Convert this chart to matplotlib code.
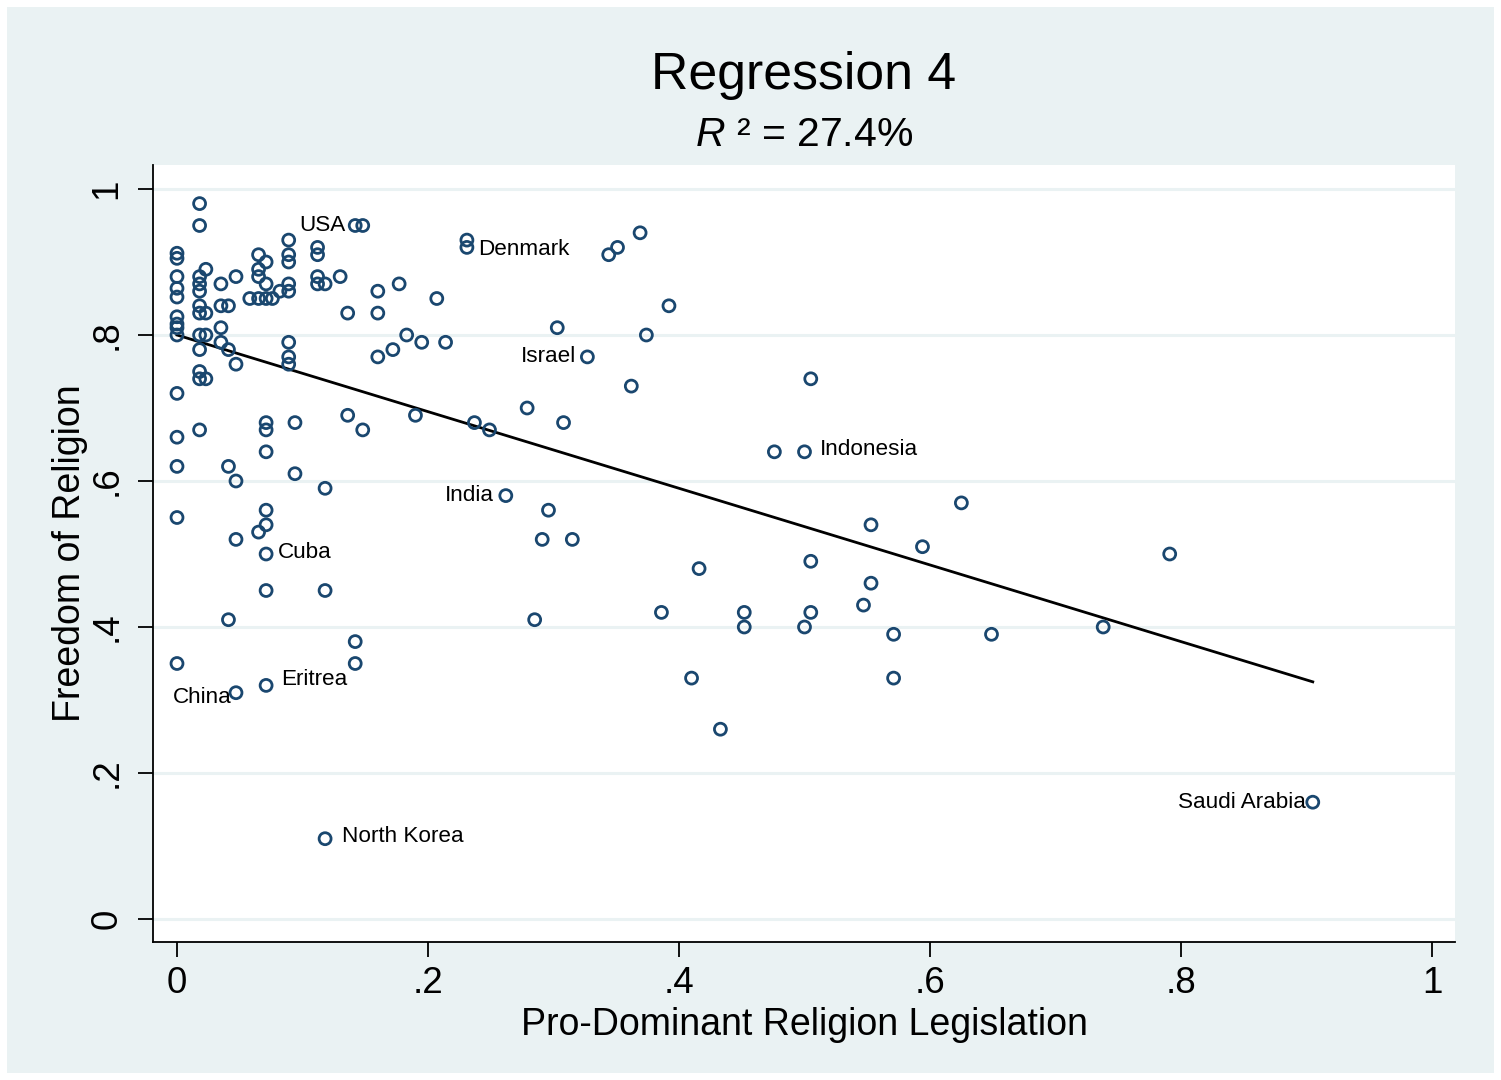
import numpy as np
import matplotlib
matplotlib.use("Agg")
from matplotlib import pyplot as plt
from matplotlib.patches import Rectangle

plt.rcParams['font.family'] = ['Liberation Sans', 'DejaVu Sans']
plt.rcParams['mathtext.fontset'] = 'custom'
plt.rcParams['mathtext.rm'] = 'Liberation Sans'
plt.rcParams['mathtext.it'] = 'Liberation Sans:italic'

# pro-dominant religion legislation (x) and freedom of religion (y), one entry per country
legislation = [
    0, 0, 0, 0, 0, 0, 0, 0, 0, 0, 0, 0, 0, 0,
    0.018, 0.018, 0.018, 0.018, 0.018, 0.018, 0.018, 0.018, 0.018, 0.018, 0.018, 0.018,
    0.023, 0.023, 0.023, 0.023,
    0.035, 0.035, 0.035, 0.035,
    0.041, 0.041, 0.041, 0.041,
    0.047, 0.047, 0.047, 0.047, 0.047,
    0.058,
    0.065, 0.065, 0.065, 0.065, 0.065,
    0.071, 0.071, 0.071, 0.071, 0.071, 0.071, 0.071, 0.071, 0.071, 0.071, 0.071,
    0.076, 0.082,
    0.089, 0.089, 0.089, 0.089, 0.089, 0.089, 0.089, 0.089,
    0.094, 0.094,
    0.112, 0.112, 0.112, 0.112,
    0.118, 0.118, 0.118, 0.118,
    0.130, 0.136, 0.136,
    0.142, 0.142, 0.142, 0.148, 0.148,
    0.160, 0.160, 0.160,
    0.172, 0.177, 0.183, 0.190, 0.195, 0.207, 0.214,
    0.231, 0.231, 0.237, 0.249, 0.262, 0.279, 0.285, 0.291, 0.296, 0.303, 0.308,
    0.315, 0.327, 0.344, 0.351, 0.362, 0.369, 0.374, 0.386, 0.392,
    0.410, 0.416, 0.433, 0.452, 0.452, 0.476, 0.500, 0.500,
    0.505, 0.505, 0.505, 0.547, 0.553, 0.553, 0.571, 0.571,
    0.594, 0.625, 0.649, 0.738, 0.791, 0.905,
]
freedom = [
    0.912, 0.905, 0.88, 0.864, 0.852, 0.825, 0.815, 0.81, 0.80, 0.72, 0.66, 0.62, 0.55, 0.35,
    0.98, 0.95, 0.88, 0.87, 0.86, 0.84, 0.83, 0.80, 0.78, 0.75, 0.74, 0.67,
    0.89, 0.83, 0.80, 0.74,
    0.87, 0.84, 0.81, 0.79,
    0.84, 0.78, 0.62, 0.41,
    0.88, 0.76, 0.60, 0.52, 0.31,
    0.85,
    0.91, 0.89, 0.88, 0.85, 0.53,
    0.90, 0.87, 0.85, 0.68, 0.67, 0.64, 0.56, 0.54, 0.50, 0.45, 0.32,
    0.85, 0.86,
    0.93, 0.91, 0.90, 0.87, 0.86, 0.79, 0.77, 0.76,
    0.68, 0.61,
    0.92, 0.91, 0.88, 0.87,
    0.87, 0.59, 0.45, 0.11,
    0.88, 0.83, 0.69,
    0.95, 0.38, 0.35, 0.95, 0.67,
    0.86, 0.83, 0.77,
    0.78, 0.87, 0.80, 0.69, 0.79, 0.85, 0.79,
    0.93, 0.92, 0.68, 0.67, 0.58, 0.70, 0.41, 0.52, 0.56, 0.81, 0.68,
    0.52, 0.77, 0.91, 0.92, 0.73, 0.94, 0.80, 0.42, 0.84,
    0.33, 0.48, 0.26, 0.42, 0.40, 0.64, 0.64, 0.40,
    0.74, 0.49, 0.42, 0.43, 0.54, 0.46, 0.39, 0.33,
    0.51, 0.57, 0.39, 0.40, 0.50, 0.16,
]

# labelled countries: name, x, y, text offset (px), alignment
countries = ["USA", "Denmark", "Israel", "India", "Indonesia", "Cuba",
             "Eritrea", "China", "North Korea", "Saudi Arabia"]
country_x = [0.142, 0.231, 0.327, 0.262, 0.500, 0.071, 0.071, 0.047, 0.118, 0.905]
country_y = [0.95, 0.92, 0.77, 0.58, 0.64, 0.50, 0.32, 0.31, 0.11, 0.16]
label_dx = [-10, 11, -11, -12, 15, 12, 15, -4, 17, -7]
label_dy = [0, -2, 0, 0, 2, 2, 6, -5, 2, 0]
label_ha = ["right", "left", "right", "right", "left", "left",
            "left", "right", "left", "right"]

# fitted line
fit_intercept = 0.80
fit_slope = -0.525

navy = "#1A476F"
bg = "#EAF2F3"

fig = plt.figure(figsize=(15.01, 10.80), dpi=100, facecolor="white")
fig.patches.append(Rectangle((7 / 1501, 7 / 1080), 1487 / 1501, 1066 / 1080,
                             transform=fig.transFigure, facecolor=bg,
                             edgecolor="none", zorder=-5))

ax = fig.add_axes([153 / 1501, 138 / 1080, 1302 / 1501, 777 / 1080])
ax.set_facecolor("white")
ax.set_xlim(-24 / 1255, 1 + 23 / 1255)
ax.set_ylim(-23 / 730, 1 + 24 / 730)

ticks = [0, 0.2, 0.4, 0.6, 0.8, 1.0]
tick_labels = ["0", ".2", ".4", ".6", ".8", "1"]
for t in ticks:
    ax.axhline(t, color=bg, lw=2.2, zorder=1)

ax.scatter(legislation, freedom, s=74, facecolors="none", edgecolors=navy,
           linewidths=2.0, zorder=3)

xs = np.array([0, max(legislation)])
ax.plot(xs, fit_intercept + fit_slope * xs, color="black", lw=2.0, zorder=2)

for name, cx, cy, dx, dy, ha in zip(countries, country_x, country_y,
                                    label_dx, label_dy, label_ha):
    ax.annotate(name, (cx, cy), xytext=(dx, dy), textcoords="offset pixels",
                ha=ha, va="center", fontsize=16.2, color="black", zorder=4)

ax.set_xticks(ticks)
ax.set_xticklabels(tick_labels)
ax.set_yticks(ticks)
ax.set_yticklabels(tick_labels, rotation=90, va="center")
ax.tick_params(axis="both", length=10.5, width=1.3, labelsize=26.5, color="black")
ax.tick_params(axis="x", pad=7)
ax.tick_params(axis="y", pad=10)

for side in ["top", "right"]:
    ax.spines[side].set_visible(False)
for side in ["left", "bottom"]:
    ax.spines[side].set_linewidth(1.3)

ax.set_xlabel("Pro-Dominant Religion Legislation", fontsize=27, labelpad=4)
ax.set_ylabel("Freedom of Religion", fontsize=27, labelpad=1)

fig.text(804 / 1501, 1 - 75 / 1080, "Regression 4", ha="center", va="center",
         fontsize=37.3)
fig.text(804 / 1501, 1 - 135 / 1080, r"$\mathit{R}$ ² = 27.4%",
         ha="center", va="center", fontsize=29.5)

fig.savefig("out.png", dpi=100, facecolor=fig.get_facecolor())
